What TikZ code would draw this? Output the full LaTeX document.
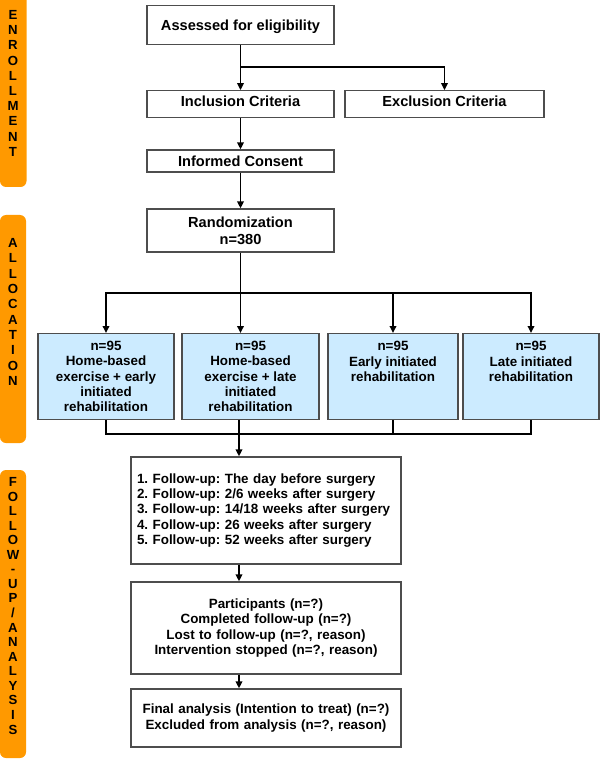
\documentclass[tikz,border=0pt]{standalone}
\usepackage{fontspec}
\setmainfont{Liberation Sans}
\usetikzlibrary{arrows.meta}
\definecolor{bandorange}{HTML}{FF9900}
\definecolor{armblue}{HTML}{CCEBFF}
\definecolor{boxgray}{HTML}{4D4D4D}
\frenchspacing
\tikzset{
  box/.style={draw=boxgray,line width=1.3pt,rectangle,inner sep=0pt,align=center,
    font=\fontsize{14.6}{17}\selectfont\bfseries},
  arm/.style={box,fill=armblue,minimum height=86pt,
    font=\fontsize{13.4}{15.3}\selectfont\bfseries},
  lowbox/.style={box,text width=258pt,inner xsep=6pt,
    font=\fontsize{13.4}{15.3}\selectfont\bfseries},
  band/.style={fill=bandorange,rounded corners=6pt},
  bandletter/.style={anchor=base,font=\fontsize{13.2}{13.2}\selectfont\bfseries},
  link/.style={line width=1.9pt},
}
\begin{document}
\begin{tikzpicture}[x=1pt,y=-1pt,>={Triangle[length=7pt,width=6.5pt]}]
  \useasboundingbox (0,0) rectangle (600,759);
  %% side bands
  \fill[band] (0,-6) rectangle (26.5,187);
  \fill[band] (0,215) rectangle (26,443);
  \fill[band] (0,470) rectangle (26,758);
  \foreach \l [count=\i] in {E,N,R,O,L,L,M,E,N,T}
    \node[bandletter] at (13,{19.5+15.2*(\i-1)}) {\l};
  \foreach \l [count=\i] in {A,L,L,O,C,A,T,I,O,N}
    \node[bandletter] at (13,{247.5+15.33*(\i-1)}) {\l};
  \foreach \l [count=\i] in {F,O,L,L,O,W,-,U,P,/,A,N,A,L,Y,S,I,S}
    \node[bandletter] at (13,{486.5+14.56*(\i-1)}) {\l};
  %% enrollment
  \node[box,minimum width=187pt,minimum height=39pt,text depth=0pt] (assess) at (240.5,24.8) {Assessed for eligibility};
  \node[box,minimum width=187pt,minimum height=27pt,text depth=6pt] (incl) at (240.5,104.3) {Inclusion Criteria};
  \node[box,minimum width=199pt,minimum height=27pt,text depth=6pt] (excl) at (444.5,104.3) {Exclusion Criteria};
  \node[box,minimum width=187pt,minimum height=22pt] (consent) at (240.5,161) {Informed Consent};
  \node[box,minimum width=187pt,minimum height=43pt] (rand) at (240.5,230.5) {Randomization\\n=380};
  \coordinate (split1) at (240.5,67);
  \draw[link,->] (assess) -- (incl);
  \draw[link,->] (split1) -| (excl.north);
  \draw[link,->] (incl) -- (consent);
  \draw[link,->] (consent) -- (rand);
  %% allocation
  \node[arm,minimum width=136pt,anchor=north] (arm1) at (106,333) {n=95\\Home-based\\exercise + early\\initiated\\rehabilitation};
  \node[arm,minimum width=137pt,anchor=north] (arm2) at (250.5,333) {n=95\\Home-based\\exercise + late\\initiated\\rehabilitation};
  \node[arm,minimum width=130pt,anchor=north] (arm3) at (393,333) {n=95\\Early initiated\\rehabilitation\\~\\~};
  \node[arm,minimum width=136pt,anchor=north] (arm4) at (531,333) {n=95\\Late initiated\\rehabilitation\\~\\~};
  \coordinate (split2) at (240.5,292.7);
  \coordinate (join) at (239,434);
  \draw[link] (rand) -- (split2);
  \draw[link,->] (split2) -| (arm1.north);
  \draw[link,->] (split2) -- (split2 |- arm2.north);
  \draw[link,->] (split2) -| (arm3.north);
  \draw[link,->] (split2) -| (arm4.north);
  \draw[link] (arm1.south) |- (join);
  \draw[link] (arm2.south -| join) -- (join);
  \draw[link] (arm3.south) |- (join);
  \draw[link] (arm4.south) |- (join);
  %% follow-up / analysis
  \node[lowbox,align=left,minimum height=107pt] (fu) at (266,510.5) {1. Follow-up: The day before surgery\\2. Follow-up: 2/6 weeks after surgery\\3. Follow-up: 14/18 weeks after surgery\\4. Follow-up: 26 weeks after surgery\\5. Follow-up: 52 weeks after surgery};
  \node[lowbox,minimum height=92pt] (part) at (266,628) {Participants (n=?)\\Completed follow-up (n=?)\\Lost to follow-up (n=?, reason)\\Intervention stopped (n=?, reason)};
  \node[lowbox,minimum height=58pt] (final) at (266,718) {Final analysis (Intention to treat) (n=?)\\Excluded from analysis (n=?, reason)};
  \draw[link,->] (join) -- (join |- fu.north);
  \draw[link,->] (join |- fu.south) -- (join |- part.north);
  \draw[link,->] (join |- part.south) -- (join |- final.north);
\end{tikzpicture}
\end{document}
